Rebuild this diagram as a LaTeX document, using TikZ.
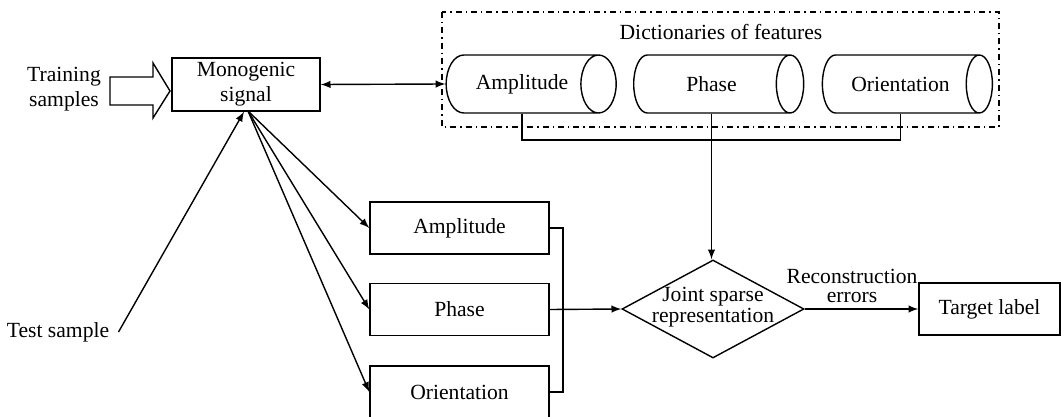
\documentclass[tikz,border=0pt]{standalone}
\usepackage{fontspec}
\setmainfont{Liberation Serif}
\usetikzlibrary{arrows,shapes,positioning,calc}

\begin{document}
\begin{tikzpicture}[x=0.5pt,y=-0.5pt,line width=0.7pt,
		every node/.style={font=\fontsize{10.8}{12.5}\selectfont},
		box/.style={draw,rectangle,minimum width=89.5pt,minimum height=26pt,inner sep=0pt},
		dict/.style={draw,cylinder,shape aspect=1.8,minimum height=85pt,minimum width=29pt,inner sep=0pt},
		arr/.style={-latex}]
			\useasboundingbox (0,0) rectangle (1061,417);
			
			% Training input
			\node[align=center] (train) at (64,89) {Training\\samples};
			\draw (110,77) -- (153,77) -- (153,63) -- (170,91) -- (153,118) -- (153,105) -- (110,105) -- cycle;
			\node[draw,align=center,minimum width=74pt,minimum height=26.5pt,inner sep=0pt] (mono) at (246,84.5) {Monogenic\\signal};
			
			% Dictionaries
			\draw[dash dot] (442,12) rectangle (999,127);
			\node (dtitle) at (721,32) {Dictionaries of features};
			\node[dict] (damp) at (522,84) {Amplitude};
			\node[dict] (dpha) at (711.5,84) {Phase};
			\node[dict] (dori) at (900.5,84) {Orientation};
			\draw[latex-latex] (mono.east) -- (damp.west);
			
			% Features of the test sample
			\node[box] (famp) at (459.5,228) {Amplitude};
			\node[box] (fpha) at (459.5,309.5) {Phase};
			\node[box] (fori) at (459.5,392) {Orientation};
			\node (test) at (58,332) {Test sample};
			\coordinate (fan) at (248,111);
			\draw[arr] ([xshift=1pt]test.east) -- ([xshift=-1pt]mono.south);
			\draw[arr] (fan) -- (famp.west);
			\draw[arr] (fan) -- (fpha.west);
			\draw[arr] (fan) -- (fori.west);
			
			% Joint sparse representation
			\node[draw,diamond,minimum width=91pt,minimum height=49pt,inner sep=0pt] (jsr) at (713,309) {};
			\node[align=center,font=\fontsize{10.8}{10.5}\selectfont] (jsrtext) at (713,307) {Joint sparse\\representation};
			\draw (damp.south) -- (damp.south |- 0,140) -| (dori.south);
			\draw[arr] (dpha.south) -- (dpha.south |- jsr.north);
			\draw (famp.east) -| (563,392) -- (fori.east);
			\draw[arr] (fpha.east) -- (jsr.west);
			
			% Output
			\node[box,minimum width=70.5pt] (target) at (989.5,309) {Target label};
			\draw[arr] (jsr.east) -- (target.west);
			\node[align=center,font=\fontsize{10.8}{9.5}\selectfont] (recerr) at (852,286) {Reconstruction\\errors};
		\end{tikzpicture}
\end{document}
